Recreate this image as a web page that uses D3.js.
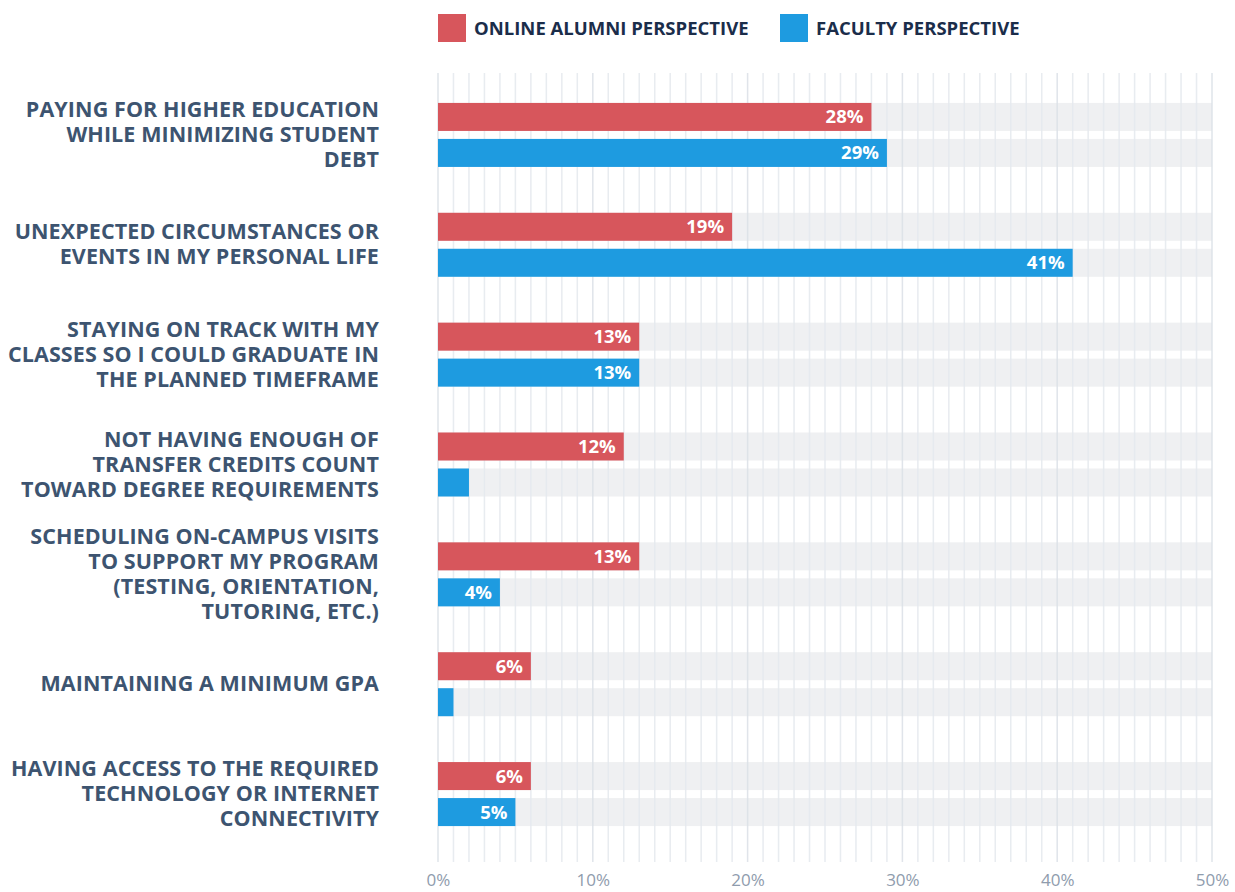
<!DOCTYPE html>
<html><head><meta charset="utf-8">
<script src="https://cdn.jsdelivr.net/npm/d3@7"></script>
<style>body{margin:0;background:#fff;}svg{display:block;font-family:"Open Sans",sans-serif;}</style>
</head><body><svg id="c" width="1235" height="892"></svg>
<script>
const categories = [
  ["PAYING FOR HIGHER EDUCATION","WHILE MINIMIZING STUDENT","DEBT"],
  ["UNEXPECTED CIRCUMSTANCES OR","EVENTS IN MY PERSONAL LIFE"],
  ["STAYING ON TRACK WITH MY","CLASSES SO I COULD GRADUATE IN","THE PLANNED TIMEFRAME"],
  ["NOT HAVING ENOUGH OF","TRANSFER CREDITS COUNT","TOWARD DEGREE REQUIREMENTS"],
  ["SCHEDULING ON-CAMPUS VISITS","TO SUPPORT MY PROGRAM","(TESTING, ORIENTATION,","TUTORING, ETC.)"],
  ["MAINTAINING A MINIMUM GPA"],
  ["HAVING ACCESS TO THE REQUIRED","TECHNOLOGY OR INTERNET","CONNECTIVITY"]
];
const alumni = [28, 19, 13, 12, 13, 6, 6];
const faculty = [29, 41, 13, 2, 4, 1, 5];
const seriesNames = ["ONLINE ALUMNI PERSPECTIVE", "FACULTY PERSPECTIVE"];
const colors = ["#d7565c", "#1e9be0"];
const tickValues = [0, 10, 20, 30, 40, 50];

const svg = d3.select("#c");
const x = d3.scaleLinear().domain([0, 50]).range([438, 1212]);
const y = d3.scaleBand().domain(d3.range(categories.length)).range([80, 849]).paddingInner(0.4).paddingOuter(0.2);
const barH = 28, gap = 8;
function groupTop(i){ return y(i) + y.bandwidth()/2 - (2*barH+gap)/2; }

const g = svg.append("g");
categories.forEach((c,i)=>{
  [0,1].forEach(s=>{
    g.append("rect").attr("x", x(0)).attr("width", x(50)-x(0))
      .attr("y", groupTop(i)+s*(barH+gap)).attr("height", barH).attr("fill","#eff0f2");
  });
});
const grid = svg.append("g");
d3.range(0, 51).forEach(v=>{
  grid.append("line").attr("x1", x(v)).attr("x2", x(v)).attr("y1", 73).attr("y2", 862)
    .attr("stroke", v%10===0 ? "#dde2e8" : "#e6eaef").attr("stroke-width", 1.5).attr("opacity", 0.9);
});
const data = [alumni, faculty];
categories.forEach((c,i)=>{
  data.forEach((arr,s)=>{
    const yy = groupTop(i)+s*(barH+gap);
    svg.append("rect").attr("x", x(0)).attr("y", yy).attr("height", barH)
      .attr("width", x(arr[i])-x(0)).attr("fill", colors[s]);
    if (arr[i] >= 3) {
      svg.append("text").attr("x", x(arr[i]) - 8).attr("y", yy + barH/2).attr("dy","0.35em")
        .attr("text-anchor","end").attr("fill","#fff").attr("font-weight",700).attr("font-size",18.5)
        .text(arr[i] + "%");
    }
  });
  const cy = groupTop(i) + barH + gap/2;
  const lh = 25;
  const t = svg.append("text").attr("text-anchor","end").attr("fill","#3d5470")
    .attr("font-weight",700).attr("font-size",21.5).attr("letter-spacing", 0.1);
  c.forEach((line,k)=>{
    t.append("tspan").attr("x", 379).attr("y", cy + (k - (c.length-1)/2)*lh).attr("dy","0.33em").text(line);
  });
});
const ax = d3.axisBottom(x).tickValues(tickValues).tickFormat(d=>d+"%").tickSize(0);
const axg = svg.append("g").attr("transform","translate(0,871)").call(ax);
axg.select(".domain").remove();
axg.selectAll("text").attr("fill","#8f9cad").attr("font-size",17).attr("font-family","Open Sans, sans-serif").attr("dy","0.71em");
const legX = [438, 780];
seriesNames.forEach((n,s)=>{
  svg.append("rect").attr("x", legX[s]).attr("y", 14).attr("width", 28).attr("height", 28).attr("fill", colors[s]);
  svg.append("text").attr("x", legX[s]+36).attr("y", 28).attr("dy","0.36em").attr("fill","#1b2d4a")
    .attr("font-weight",700).attr("font-size",18.5).text(n);
});
</script></body></html>
